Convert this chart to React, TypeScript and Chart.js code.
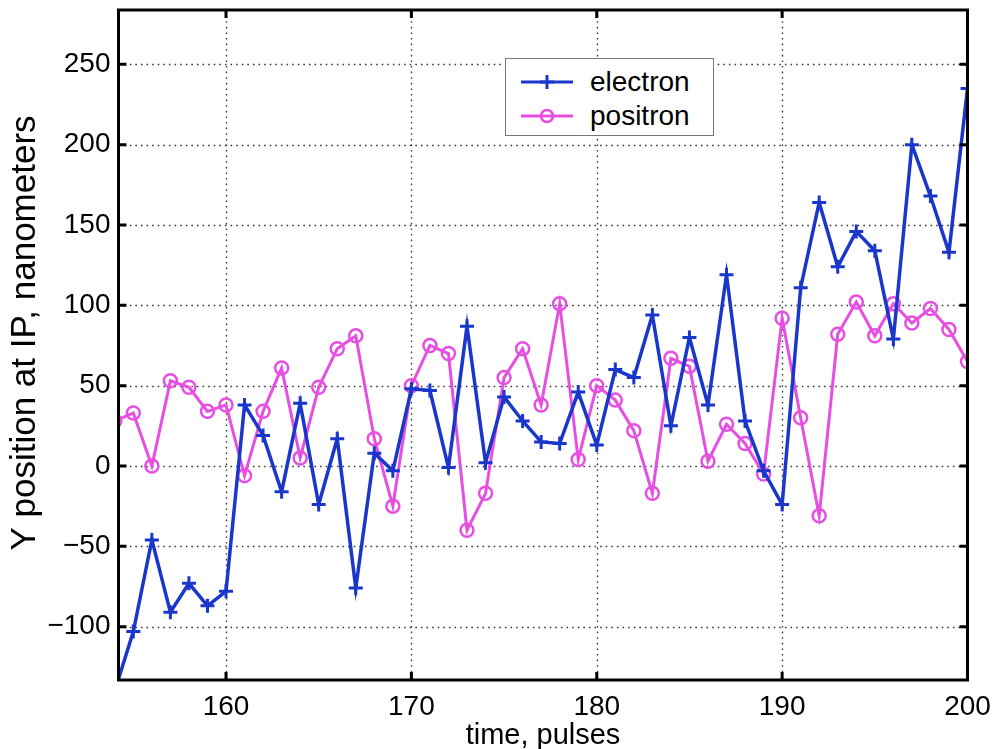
import React, { useEffect, useRef } from 'react';
import { Chart, registerables } from 'chart.js';

Chart.register(...registerables);

const pulses = [154, 155, 156, 157, 158, 159, 160, 161, 162, 163, 164, 165, 166, 167, 168, 169, 170, 171, 172, 173, 174, 175, 176, 177, 178, 179, 180, 181, 182, 183, 184, 185, 186, 187, 188, 189, 190, 191, 192, 193, 194, 195, 196, 197, 198, 199, 200];
const electron = [-140, -103, -46, -91, -73, -87, -78, 38, 19, -16, 39, -24, 17, -76, 8, -3, 48, 47, -1, 87, 2, 43, 28, 15, 14, 46, 13, 60, 55, 94, 25, 80, 38, 119, 28, -3, -24, 111, 164, 124, 146, 134, 79, 200, 168, 133, 235];
const positron = [28, 33, 0, 53, 49, 34, 38, -6, 34, 61, 5, 49, 73, 81, 17, -25, 50, 75, 70, -40, -17, 55, 73, 38, 101, 4, 50, 41, 22, -17, 67, 62, 3, 26, 14, -5, 92, 30, -31, 82, 102, 81, 101, 89, 98, 85, 65];
const xTickValues = [160, 170, 180, 190, 200];
const yTickValues = [-100, -50, 0, 50, 100, 150, 200, 250];
const xLimits = [154.2, 200];
const yLimits = [-133.2, 283.8];
const seriesNames = ['electron', 'positron'];
const xTitle = 'time, pulses';
const yTitle = 'Y position at IP, nanometers';

const BLUE = '#1a37cc';
const PINK = '#e64fe2';
const FONT = '"Liberation Sans", Arial, Helvetica, sans-serif';

const matlabAxes = {
  id: 'matlabAxes',
  beforeDatasetsDraw(chart: any) {
    const { ctx, chartArea: a, scales } = chart;
    ctx.save();
    ctx.strokeStyle = '#3a3a3a';
    ctx.lineWidth = 1.4;
    ctx.setLineDash([1.6, 4]);
    for (const v of xTickValues) {
      const px = Math.round(scales.x.getPixelForValue(v)) + 0.5;
      if (px > a.right - 3) continue;
      ctx.beginPath();
      ctx.moveTo(px, a.top);
      ctx.lineTo(px, a.bottom);
      ctx.stroke();
    }
    for (const v of yTickValues) {
      const py = Math.round(scales.y.getPixelForValue(v)) + 0.5;
      ctx.beginPath();
      ctx.moveTo(a.left, py);
      ctx.lineTo(a.right, py);
      ctx.stroke();
    }
    ctx.restore();
  },
  afterDatasetsDraw(chart: any) {
    const { ctx, chartArea: a, scales } = chart;
    ctx.save();
    ctx.strokeStyle = '#000';
    ctx.setLineDash([]);
    ctx.lineWidth = 3;
    ctx.strokeRect(a.left, a.top, a.right - a.left, a.bottom - a.top);
    const len = 8;
    ctx.beginPath();
    for (const v of xTickValues) {
      const px = scales.x.getPixelForValue(v);
      ctx.moveTo(px, a.bottom);
      ctx.lineTo(px, a.bottom - len);
      ctx.moveTo(px, a.top);
      ctx.lineTo(px, a.top + len);
    }
    for (const v of yTickValues) {
      const py = scales.y.getPixelForValue(v);
      ctx.moveTo(a.left, py);
      ctx.lineTo(a.left + len, py);
      ctx.moveTo(a.right, py);
      ctx.lineTo(a.right - len, py);
    }
    ctx.stroke();
    // y-axis title (rotated)
    ctx.fillStyle = '#000';
    ctx.font = `35px ${FONT}`;
    ctx.textAlign = 'center';
    ctx.textBaseline = 'middle';
    ctx.translate(25, 333);
    ctx.rotate(-Math.PI / 2);
    ctx.fillText(yTitle, 0, 0);
    ctx.restore();
  },
};

function LegendSwatch({ kind }: { kind: 'cross' | 'circle' }) {
  const color = kind === 'cross' ? BLUE : PINK;
  return (
    <svg width={56} height={20} style={{ display: 'block' }}>
      <line x1={2} y1={10} x2={54} y2={10} stroke={color} strokeWidth={3} />
      {kind === 'cross' ? (
        <g stroke={color} strokeWidth={3}>
          <line x1={28} y1={3} x2={28} y2={17} />
          <line x1={21} y1={10} x2={35} y2={10} />
        </g>
      ) : (
        <circle cx={28} cy={10} r={6} fill="none" stroke={color} strokeWidth={2.5} />
      )}
    </svg>
  );
}

export default function App() {
  const canvasRef = useRef<HTMLCanvasElement | null>(null);

  useEffect(() => {
    const canvas = canvasRef.current;
    if (!canvas) return;
    const chart = new Chart(canvas, {
      type: 'line',
      data: {
        datasets: [
          {
            label: seriesNames[0],
            data: pulses.map((p, i) => ({ x: p, y: electron[i] })),
            borderColor: BLUE,
            backgroundColor: BLUE,
            borderWidth: 3.5,
            pointStyle: 'cross',
            pointRadius: 7,
            pointBorderWidth: 3,
            pointBorderColor: BLUE,
            tension: 0,
          },
          {
            label: seriesNames[1],
            data: pulses.map((p, i) => ({ x: p, y: positron[i] })),
            borderColor: PINK,
            backgroundColor: 'rgba(0,0,0,0)',
            borderWidth: 3,
            pointStyle: 'circle',
            pointRadius: 6.5,
            pointBorderWidth: 2.5,
            pointBorderColor: PINK,
            pointBackgroundColor: 'rgba(0,0,0,0)',
            tension: 0,
          },
        ],
      },
      options: {
        animation: false,
        responsive: false,
        maintainAspectRatio: false,
        devicePixelRatio: 1,
        layout: { padding: { top: 10, right: 24.5, left: 0, bottom: 0 } },
        plugins: {
          legend: { display: false },
          tooltip: { enabled: false },
        },
        scales: {
          x: {
            type: 'linear',
            min: xLimits[0],
            max: xLimits[1],
            afterBuildTicks: (scale: any) => {
              scale.ticks = xTickValues.map((v) => ({ value: v }));
            },
            afterFit: (scale: any) => {
              scale.height = 69;
              scale.paddingLeft = 0;
              scale.paddingRight = 0;
            },
            grid: { display: false, drawTicks: false },
            border: { display: false },
            ticks: {
              autoSkip: false,
              maxRotation: 0,
              padding: 10,
              color: '#000',
              font: { family: FONT, size: 28 },
              callback: (v: any) => String(v),
            },
            title: {
              display: true,
              text: xTitle,
              color: '#000',
              font: { family: FONT, size: 29, lineHeight: 1 },
              padding: { top: 0, bottom: -1.5 },
            },
          },
          y: {
            type: 'linear',
            min: yLimits[0],
            max: yLimits[1],
            afterBuildTicks: (scale: any) => {
              scale.ticks = yTickValues.map((v) => ({ value: v }));
            },
            afterFit: (scale: any) => {
              scale.width = 118.5;
              scale.paddingTop = 0;
              scale.paddingBottom = 0;
            },
            grid: { display: false, drawTicks: false },
            border: { display: false },
            ticks: {
              autoSkip: false,
              padding: 8,
              color: '#000',
              font: { family: FONT, size: 28 },
              callback: (v: any) => (v < 0 ? '\u2212' + Math.abs(v) : String(v)),
            },
            title: { display: false, text: yTitle },
          },
        },
      },
      plugins: [matlabAxes],
    } as any);
    return () => chart.destroy();
  }, []);

  return (
    <div style={{ position: 'fixed', left: 0, top: 0, width: 992, height: 749, background: '#fff', overflow: 'hidden' }}>
      <canvas ref={canvasRef} width={992} height={749} style={{ display: 'block', width: 992, height: 749 }} />
      <div
        style={{
          position: 'absolute',
          left: 505,
          top: 58,
          width: 207,
          height: 76,
          background: '#fff',
          border: '1px solid #777',
          fontFamily: FONT,
          fontSize: 28,
          color: '#000',
        }}
      >
        {seriesNames.map((name, i) => (
          <div
            key={name}
            style={{ position: 'absolute', left: 13, top: i === 0 ? 12 : 46, height: 22, display: 'flex', alignItems: 'center' }}
          >
            <LegendSwatch kind={i === 0 ? 'cross' : 'circle'} />
            <span style={{ marginLeft: 15, lineHeight: '22px' }}>{name}</span>
          </div>
        ))}
      </div>
    </div>
  );
}
